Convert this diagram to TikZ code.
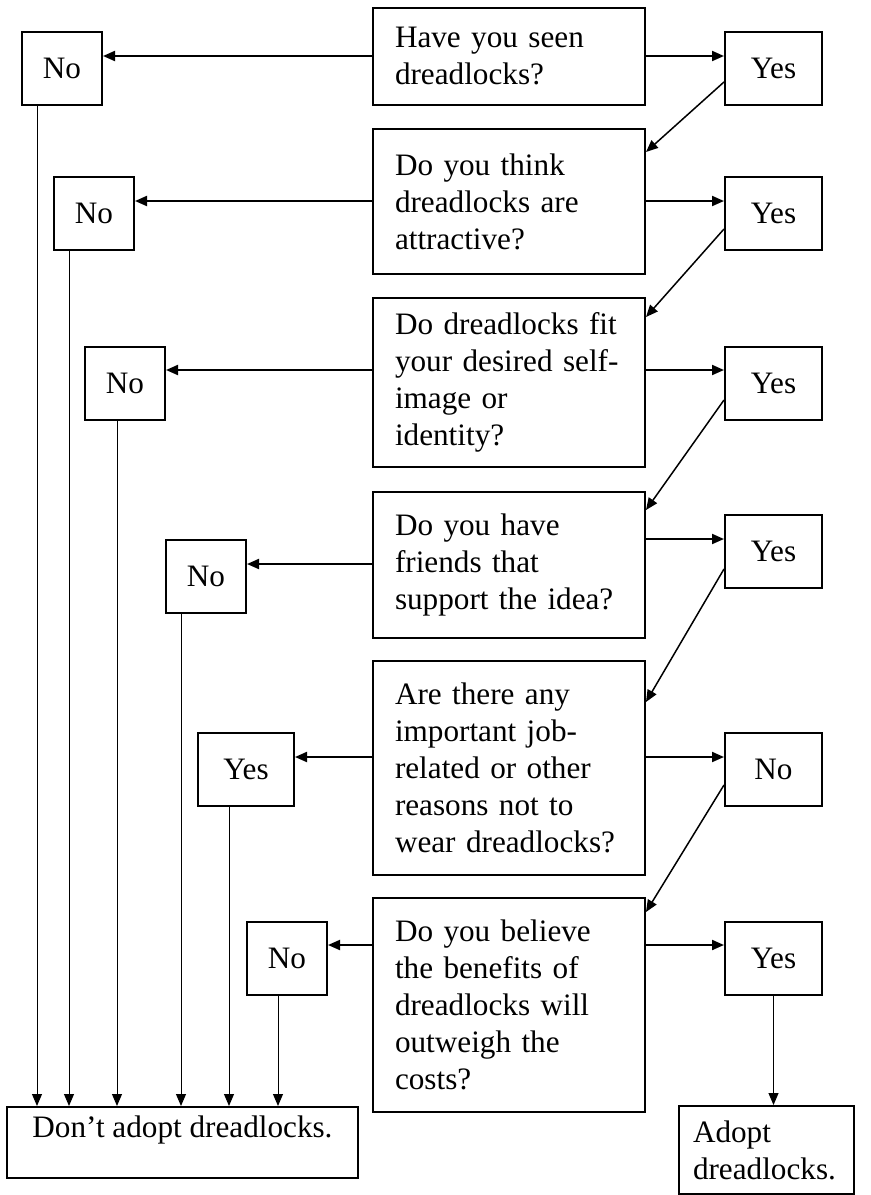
\documentclass[tikz,border=0pt]{standalone}
\usepackage{fontspec}
\setmainfont{Liberation Serif}
\usetikzlibrary{arrows.meta,positioning}

\begin{document}
\begin{tikzpicture}[
      x=0.5pt,y=-0.5pt,
      box/.style={draw,line width=1pt,inner sep=0pt,anchor=north west,
        font=\fontsize{15.6pt}{18.5pt}\selectfont},
      question/.style={box,align=left,text width=114pt,inner xsep=11pt},
      answer/.style={box,minimum width=48.5pt,minimum height=36.5pt},
      short/.style={answer,minimum width=40pt},
      arrow/.style={-{Triangle[length=6pt,width=5pt]},line width=1pt},
      slant/.style={-{Triangle[length=6pt,width=5pt]},line width=0.75pt},
      drop/.style={-{Triangle[length=6pt,width=5pt]},line width=0.5pt}
    ]
      \useasboundingbox (0,0) rectangle (871,1195);
      % questions
      \node[question,minimum height=48.5pt] (q1) at (372,7) {Have you seen\\dreadlocks?};
      \node[question,minimum height=72.5pt] (q2) at (372,128) {Do you think\\dreadlocks are\\attractive?};
      \node[question,minimum height=84.5pt] (q3) at (372,297) {Do~dreadlocks~fit\\your~desired~self-\\image or\\identity?};
      \node[question,minimum height=73pt] (q4) at (372,491) {Do you have\\friends that\\support~the~idea?};
      \node[question,minimum height=107pt] (q5) at (372,660) {Are there any\\important~job-\\related~or~other\\reasons not to\\wear~dreadlocks?};
      \node[question,minimum height=107pt] (q6) at (372,897) {Do you believe\\the benefits of\\dreadlocks~will\\outweigh the\\costs?};
      % answers
      \node[short] (no1) at (21,31) {No};
      \node[answer] (yes1) at (724,31) {Yes};
      \node[short] (no2) at (53,176) {No};
      \node[answer] (yes2) at (724,176) {Yes};
      \node[short] (no3) at (84,346) {No};
      \node[answer] (yes3) at (724,346) {Yes};
      \node[short] (no4) at (165,539) {No};
      \node[answer] (yes4) at (724,514) {Yes};
      \node[answer,minimum width=48pt] (yes5) at (197,732) {Yes};
      \node[answer] (no5) at (724,732) {No};
      \node[short] (no6) at (246,921) {No};
      \node[answer] (yes6) at (724,921) {Yes};
      % outcomes
      \node[box,minimum width=175.5pt,text height=12pt,text depth=17pt,inner ysep=3.25pt] (dont) at (6,1106) {Don’t adopt dreadlocks.};
      \node[box,align=left,text width=73.5pt,inner xsep=7pt,minimum height=44pt] (adopt) at (678,1105) {Adopt\\dreadlocks.};
      % no side
      \draw[arrow] (q1.west |- 0,56) -- (no1.east |- 0,56);
      \draw[arrow] (q2.west |- 0,201) -- (no2.east |- 0,201);
      \draw[arrow] (q3.west |- 0,370) -- (no3.east |- 0,370);
      \draw[arrow] (q4.west |- 0,564) -- (no4.east |- 0,564);
      \draw[arrow] (q5.west |- 0,757) -- (yes5.east |- 0,757);
      \draw[arrow] (q6.west |- 0,945) -- (no6.east |- 0,945);
      % yes side
      \draw[arrow] (q1.east |- 0,56) -- (yes1.west |- 0,56);
      \draw[arrow] (q2.east |- 0,201) -- (yes2.west |- 0,201);
      \draw[arrow] (q3.east |- 0,370) -- (yes3.west |- 0,370);
      \draw[arrow] (q4.east |- 0,539) -- (yes4.west |- 0,539);
      \draw[arrow] (q5.east |- 0,757) -- (no5.west |- 0,757);
      \draw[arrow] (q6.east |- 0,945) -- (yes6.west |- 0,945);
      % on to the next question
      \draw[slant] ([yshift=12pt]yes1.south west) -- ([yshift=-12pt]q2.north east);
      \draw[slant] ([yshift=11pt]yes2.south west) -- ([yshift=-10pt]q3.north east);
      \draw[slant] ([yshift=10.5pt]yes3.south west) -- ([yshift=-9.5pt]q4.north east);
      \draw[slant] ([yshift=10pt]yes4.south west) -- ([yshift=-21pt]q5.north east);
      \draw[slant] ([yshift=11pt]no5.south west) -- ([yshift=-7.5pt]q6.north east);
      % down to the outcomes
      \draw[drop] ([xshift=8pt]no1.south west) -- ([xshift=8pt]no1.south west |- dont.north);
      \draw[drop] ([xshift=8pt]no2.south west) -- ([xshift=8pt]no2.south west |- dont.north);
      \draw[drop] ([xshift=16.5pt]no3.south west) -- ([xshift=16.5pt]no3.south west |- dont.north);
      \draw[drop] ([xshift=8pt]no4.south west) -- ([xshift=8pt]no4.south west |- dont.north);
      \draw[drop] ([xshift=16pt]yes5.south west) -- ([xshift=16pt]yes5.south west |- dont.north);
      \draw[drop] ([xshift=16pt]no6.south west) -- ([xshift=16pt]no6.south west |- dont.north);
      \draw[drop] (yes6.south) -- (yes6.south |- adopt.north);
    \end{tikzpicture}
\end{document}
